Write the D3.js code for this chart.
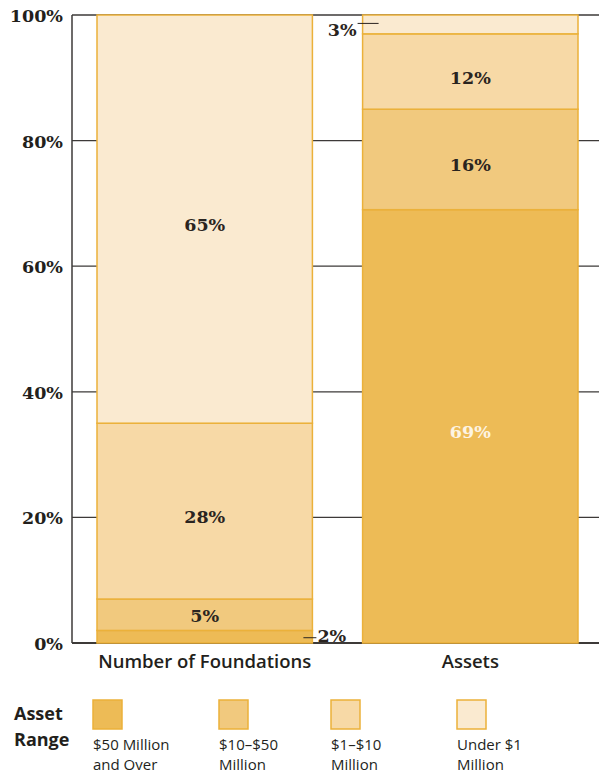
<!DOCTYPE html>
<html>
<head>
<meta charset="utf-8">
<script src="https://cdn.jsdelivr.net/npm/d3@7"></script>
<style>
  body { margin: 0; background: #fff; }
</style>
</head>
<body>
<div id="chart"></div>
<script>
// categories (bars) and asset-range series, bottom to top
const categories = ["Number of Foundations", "Assets"];
const seriesNames = ["$50 Million and Over", "$10–$50 Million", "$1–$10 Million", "Under $1 Million"];
const legendLines = [["$50 Million", "and Over"], ["$10–$50", "Million"], ["$1–$10", "Million"], ["Under $1", "Million"]];
const foundationsValues = [2, 5, 28, 65];
const assetsValues = [69, 16, 12, 3];
const yTicks = [0, 20, 40, 60, 80, 100];
const colors = ["#edbb56", "#f1c97e", "#f7d9a6", "#faead0"];

const width = 599, height = 776;
const svg = d3.select("#chart").append("svg")
  .attr("width", width).attr("height", height);

const y = d3.scaleLinear().domain([0, 100]).range([643, 15]);
const x = d3.scaleBand().domain(categories).range([97, 578]).paddingInner(0.189).paddingOuter(0);

const serif = "'DejaVu Serif', serif";
const sans = "'Open Sans', sans-serif";

// gridlines
svg.append("g").selectAll("line").data(yTicks).enter().append("line")
  .attr("x1", 72).attr("x2", width)
  .attr("y1", d => y(d)).attr("y2", d => y(d))
  .attr("stroke", "#3d3a38").attr("stroke-width", d => d === 0 ? 2 : 1.3);

// y axis line
svg.append("line").attr("x1", 72).attr("x2", 72).attr("y1", y(100)).attr("y2", y(0))
  .attr("stroke", "#3d3a38").attr("stroke-width", 1.5);

// tick labels
svg.append("g").selectAll("text").data(yTicks).enter().append("text")
  .attr("x", 63).attr("y", d => y(d) + 7)
  .attr("text-anchor", "end")
  .style("font-family", serif).style("font-weight", "700")
  .style("font-size", "17.5px").style("fill", "#231f1c")
  .text(d => d + "%");

// stacked bars
const data = [foundationsValues, assetsValues];
data.forEach((vals, i) => {
  const cat = categories[i];
  let cum = 0;
  vals.forEach((v, j) => {
    const y0 = cum, y1 = cum + v;
    cum = y1;
    svg.append("rect")
      .attr("x", x(cat)).attr("width", x.bandwidth())
      .attr("y", y(y1)).attr("height", y(y0) - y(y1))
      .attr("fill", colors[j]).attr("stroke", "#ebb13a").attr("stroke-width", 1.5);
    if (v >= 5) {
      const segH = y(y0) - y(y1);
      svg.append("text")
        .attr("x", x(cat) + x.bandwidth() / 2).attr("y", y((y0 + y1) / 2) + (segH < 40 ? 7 : 12))
        .attr("text-anchor", "middle")
        .style("font-family", serif).style("font-weight", "700")
        .style("font-size", "17.5px")
        .style("fill", j === 0 && i === 1 ? "#fdf4e3" : "#2a2420")
        .text(v + "%");
    }
  });
});

// small-value callouts
const fx = x(categories[0]) + x.bandwidth();
svg.append("line").attr("x1", fx - 9).attr("x2", fx + 4)
  .attr("y1", y(foundationsValues[0] / 2) + 1).attr("y2", y(foundationsValues[0] / 2) + 1)
  .attr("stroke", "#2a2420").attr("stroke-width", 1);
svg.append("text").attr("x", fx + 5).attr("y", y(0) - 1)
  .style("font-family", serif).style("font-weight", "700")
  .style("font-size", "17.5px").style("fill", "#2a2420").text(foundationsValues[0] + "%");

const ax = x(categories[1]);
const topMid = 100 - assetsValues[3] / 2;
svg.append("line").attr("x1", ax - 5).attr("x2", ax + 16)
  .attr("y1", y(topMid) - 1).attr("y2", y(topMid) - 1)
  .attr("stroke", "#2a2420").attr("stroke-width", 1);
svg.append("text").attr("x", ax - 6).attr("y", y(topMid) + 12)
  .attr("text-anchor", "end")
  .style("font-family", serif).style("font-weight", "700")
  .style("font-size", "17.5px").style("fill", "#2a2420").text(assetsValues[3] + "%");

// category labels
svg.append("g").selectAll("text").data(categories).enter().append("text")
  .attr("x", d => x(d) + x.bandwidth() / 2).attr("y", 668)
  .attr("text-anchor", "middle")
  .style("font-family", sans).style("font-weight", "600")
  .style("font-size", "18.5px").style("fill", "#231f1c")
  .text(d => d);

// legend
svg.append("text").attr("x", 14).attr("y", 720)
  .style("font-family", sans).style("font-weight", "700")
  .style("font-size", "18px").style("fill", "#231f1c").text("Asset");
svg.append("text").attr("x", 14).attr("y", 746)
  .style("font-family", sans).style("font-weight", "700")
  .style("font-size", "18px").style("fill", "#231f1c").text("Range");

const legendX = [93, 219, 331, 457];
seriesNames.forEach((name, i) => {
  svg.append("rect").attr("x", legendX[i]).attr("y", 700).attr("width", 29).attr("height", 29)
    .attr("fill", colors[i]).attr("stroke", "#ebb13a").attr("stroke-width", 1.5);
  legendLines[i].forEach((ln, k) => {
    svg.append("text").attr("x", legendX[i]).attr("y", 750 + k * 20)
      .style("font-family", sans).style("font-size", "15px").style("fill", "#231f1c")
      .text(ln);
  });
});
</script>
</body>
</html>
